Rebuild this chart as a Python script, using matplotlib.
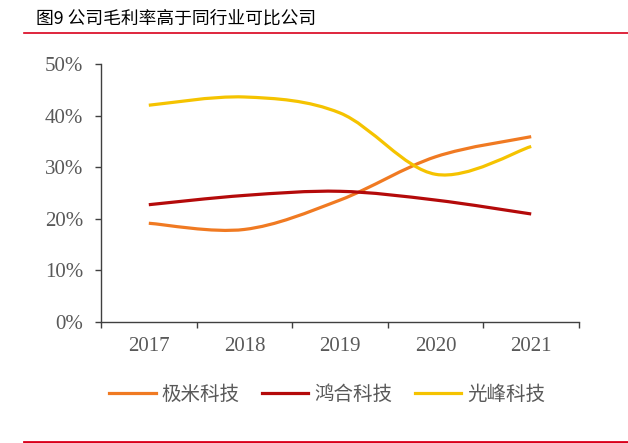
import numpy as np
import matplotlib
matplotlib.use("Agg")
import matplotlib.pyplot as plt
from matplotlib.path import Path
from matplotlib.patches import PathPatch
from matplotlib.lines import Line2D

years = ["2017", "2018", "2019", "2020", "2021"]
jimi = [19.1, 17.9, 23.6, 32.0, 35.9]
honghe = [22.7, 24.5, 25.3, 23.6, 20.9]
guangfeng = [42.0, 43.6, 40.5, 28.6, 34.0]
series_names = ["极米科技", "鸿合科技", "光峰科技"]
yticks = [0, 10, 20, 30, 40, 50]

colors = ["#F07A22", "#B40A0A", "#F5C300"]
serif = ["Liberation Serif", "DejaVu Serif"]
cjk = ["Noto Sans CJK SC", "DejaVu Sans"]
grey = "#595959"

fig = plt.figure(figsize=(6.28, 4.43), dpi=100)
W, H = 628, 443
ax = fig.add_axes([101 / W, 1 - 321.7 / H, (579 - 101) / W, (321.7 - 64) / H])


def smooth_path(xs, ys):
    pts = np.column_stack([xs, ys]).astype(float)
    n = len(pts)
    verts = [pts[0]]
    codes = [Path.MOVETO]
    for i in range(n - 1):
        p0 = pts[i - 1] if i > 0 else pts[i]
        p1 = pts[i]
        p2 = pts[i + 1]
        p3 = pts[i + 2] if i + 2 < n else pts[i + 1]
        c1 = p1 + (p2 - p0) / 6.0
        c2 = p2 - (p3 - p1) / 6.0
        verts += [c1, c2, p2]
        codes += [Path.CURVE4] * 3
    return Path(verts, codes)


x = np.arange(len(years))
for vals, c in zip([jimi, honghe, guangfeng], colors):
    patch = PathPatch(smooth_path(x, vals), facecolor="none", edgecolor=c,
                      lw=2.3, capstyle="butt", zorder=3)
    ax.add_patch(patch)

ax.set_xlim(-0.5, len(years) - 0.5)
ax.set_ylim(0, 50)
ax.set_yticks(yticks)
ax.set_yticklabels([f"{v}%" for v in yticks], fontfamily=serif, fontsize=15, color=grey)
ax.set_xticks(np.arange(-0.5, len(years), 1.0))
ax.set_xticklabels([])
ax.set_xticks(x, minor=True)
ax.set_xticklabels(years, minor=True, fontfamily=serif, fontsize=15, color=grey)
ax.tick_params(axis="x", which="minor", length=0, pad=11)
ax.tick_params(axis="x", which="major", length=4, width=1, color="#404040", direction="out")
ax.tick_params(axis="y", length=4, width=1, color="#404040", direction="out", pad=9)
for s in ["top", "right"]:
    ax.spines[s].set_visible(False)
for s in ["left", "bottom"]:
    ax.spines[s].set_color("#404040")
    ax.spines[s].set_linewidth(1)

# legend
handles = [Line2D([], [], color=c, lw=2.3) for c in colors]
fig.legend(handles, series_names, loc="center", bbox_to_anchor=(327 / W, 1 - 394 / H),
           ncol=3, frameon=False, handlelength=2.4, handletextpad=0.3,
           columnspacing=1.15, prop={"family": cjk, "size": 14}, labelcolor=grey)

# title and decorative lines
fig.text(36 / W, 1 - 19 / H, "图9 公司毛利率高于同行业可比公司", fontfamily=cjk,
         fontsize=12.8, color="black", va="center", ha="left")
fig.add_artist(Line2D([24 / W, 1], [1 - 33 / H] * 2, color="#D9001B", lw=1.2))
fig.add_artist(Line2D([24 / W, 1], [1 - 441.5 / H] * 2, color="#D9001B", lw=2))

fig.savefig("out.png", dpi=100)
